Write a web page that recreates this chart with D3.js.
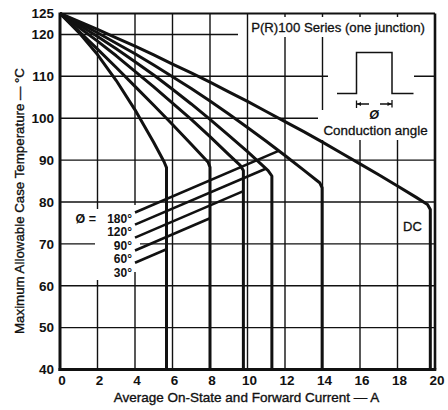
<!DOCTYPE html>
<html><head><meta charset="utf-8">
<script src="https://cdn.jsdelivr.net/npm/d3@7"></script>
<style>
body{margin:0;background:#fff}
text{font-family:"Liberation Sans",Arial,Helvetica,sans-serif;fill:#111}
</style>
</head><body>
<svg id="c" width="448" height="410"></svg>
<script>
// ---------- data ----------
const xTicks = [0,2,4,6,8,10,12,14,16,18,20];
const yTicks = [40,50,60,70,80,90,100,110,120,125];
const angleLabels = ["180°","120°","90°","60°","30°"];
// [average current A, max case temperature °C]
const curve30  = [[0,125],[1,120.5],[2,115.2],[3,109.0],[4,102.0],[5,94.2],[5.55,89.6],[5.68,88.2],[5.68,40]];
const curve60  = [[0,125],[1,120.8],[2,116.5],[3,112.1],[4,107.6],[5,103.1],[6,98.5],[7,93.8],[7.9,89.5],[8.0,88.3],[8.0,40]];
const curve90  = [[0,125],[1,121.7],[2,118.4],[3,114.9],[4,111.2],[5,107.5],[6,103.6],[7,99.7],[8,95.6],[9,91.3],[9.6,88.8],[9.78,87.5],[9.78,40]];
const curve120 = [[0,125],[1,122.3],[2,119.5],[3,116.6],[4,113.5],[5,110.3],[6,106.9],[7,103.4],[8,99.7],[9,95.9],[10,92.0],[11,87.9],[11.1,87.5],[11.3,86.2],[11.3,40]];
const curve180 = [[0,125],[1,122.8],[2,120.4],[3,117.9],[4,115.4],[5,112.7],[6,109.9],[7,107.1],[8,104.1],[9,101.0],[10,97.8],[11,94.5],[12,91.1],[13,87.6],[13.85,84.6],[13.98,83.4],[13.98,40]];
const curveDC  = [[0,125],[1,123.1],[2,121.2],[3,119.2],[4,117.2],[5,115.1],[6,112.9],[7,110.8],[8,108.6],[9,106.3],[10,104.0],[11,101.6],[12,99.2],[13,96.8],[14,94.3],[15,91.7],[16,89.1],[17,86.5],[18,83.8],[19,81.1],[19.6,79.4],[19.75,78.2],[19.75,40]];
// leader lines from the legend labels to their curves
const leaderStart = [[4.0,77.5],[4.0,74.6],[4.0,71.5],[4.0,68.4],[4.0,65.5]];
const leaderEnd   = [[11.66,92.2],[11.0,88.0],[9.78,82.6],[8.0,76.1],[5.68,68.7]];

// ---------- drawing ----------
const svg = d3.select("#c");
const x = d3.scaleLinear().domain([0,20]).range([60,435]);
const y = d3.scaleLinear().domain([40,125]).range([369.5,13.5]);
const ink = "#111";

// horizontal grid
const gH = svg.append("g");
gH.selectAll("line").data(yTicks.filter(v => v > 40 && v < 125)).join("line")
  .attr("x1", x(0)).attr("x2", x(20)).attr("y1", d => y(d)).attr("y2", d => y(d))
  .attr("stroke", ink).attr("stroke-width", 1.4);
// gaps in horizontal grid (label / inset areas)
const hGaps = [[238,434,31,39],[345,414,72,82],[320,434,114,124],[97,135,239,248]];
svg.append("g").selectAll("rect").data(hGaps).join("rect")
  .attr("x", d => d[0]).attr("width", d => d[1]-d[0]).attr("y", d => d[2]).attr("height", d => d[3]-d[2])
  .attr("fill", "#fff");

// vertical grid
const gV = svg.append("g");
gV.selectAll("line").data(xTicks.filter(v => v > 0 && v < 20)).join("line")
  .attr("y1", y(40)).attr("y2", y(125)).attr("x1", d => x(d)).attr("x2", d => x(d))
  .attr("stroke", ink).attr("stroke-width", 1.4);
const vGaps = [[95,104,209,280],[131,140,205,272],[250,434,17,37],[318,434,110,140],[328,414,37,140]];
svg.append("g").selectAll("rect").data(vGaps).join("rect")
  .attr("x", d => d[0]).attr("width", d => d[1]-d[0]).attr("y", d => d[2]).attr("height", d => d[3]-d[2])
  .attr("fill", "#fff");

// frame
svg.append("line").attr("x1", x(0)).attr("x2", x(20)).attr("y1", y(125)).attr("y2", y(125)).attr("stroke", ink).attr("stroke-width", 2.2);
svg.append("line").attr("x1", x(20)).attr("x2", x(20)).attr("y1", y(125)).attr("y2", y(40)).attr("stroke", ink).attr("stroke-width", 2.6);
svg.append("line").attr("x1", x(0)).attr("x2", x(0)).attr("y1", y(125)-1).attr("y2", y(40)+1.5).attr("stroke", ink).attr("stroke-width", 3);
svg.append("line").attr("x1", x(0)-1.5).attr("x2", x(20)+1.3).attr("y1", y(40)).attr("y2", y(40)).attr("stroke", ink).attr("stroke-width", 3);

// curves
const line = d3.line().x(d => x(d[0])).y(d => y(d[1]));
const curves = [curve30, curve60, curve90, curve120, curve180, curveDC];
svg.append("g").selectAll("path").data(curves).join("path")
  .attr("d", line).attr("fill", "none").attr("stroke", ink)
  .attr("stroke-width", 3).attr("stroke-linejoin", "round");

// leader lines
svg.append("g").selectAll("line").data(leaderStart).join("line")
  .attr("x1", d => x(d[0])).attr("y1", d => y(d[1]))
  .attr("x2", (d,i) => x(leaderEnd[i][0])).attr("y2", (d,i) => y(leaderEnd[i][1]))
  .attr("stroke", ink).attr("stroke-width", 2.6);

// legend labels
const gL = svg.append("g").attr("font-size", 12).attr("font-weight", "bold");
gL.selectAll("text.ang").data(angleLabels).join("text").attr("class", "ang")
  .attr("text-anchor", "end")
  .attr("x", x(4) - 3).attr("y", (d,i) => 222.8 + 13.5 * i)
  .attr("font-size", 13).attr("transform", (d,i) => `translate(0,0)`)
  .style("font-size", "12px")
  .text(d => d);
gL.append("text").attr("x", 96).attr("y", 222.8)
  .attr("text-anchor", "end").style("font-size", "12.5px").text("Ø =");

// axes tick labels
const ax = svg.append("g").attr("transform", `translate(${x(0)},0)`)
  .call(d3.axisLeft(y).tickValues(yTicks).tickSize(0).tickPadding(6).tickFormat(d3.format("d")));
ax.select(".domain").remove();
ax.selectAll("text").attr("font-size", 13.5).attr("font-weight", "bold").attr("fill", ink)
  .style("font-family", '"Liberation Sans",Arial,sans-serif');
const bx = svg.append("g").attr("transform", `translate(1.5,${y(40)})`)
  .call(d3.axisBottom(x).tickValues(xTicks).tickSize(0).tickPadding(6).tickFormat(d3.format("d")));
bx.select(".domain").remove();
bx.selectAll("text").attr("font-size", 13.5).attr("font-weight", "bold").attr("fill", ink)
  .style("font-family", '"Liberation Sans",Arial,sans-serif');

// axis titles
svg.append("text").attr("x", 246.5).attr("y", 401.5).attr("text-anchor", "middle")
  .attr("font-size", 13.5).attr("stroke", ink).attr("stroke-width", 0.35)
  .text("Average On-State and Forward Current — A");
svg.append("text").attr("transform", "translate(24,201) rotate(-90)").attr("text-anchor", "middle")
  .attr("font-size", 13.3).attr("stroke", ink).attr("stroke-width", 0.35)
  .text("Maximum Allowable Case Temperature — °C");

// inset annotation
svg.append("text").attr("x", 338).attr("y", 31.5).attr("text-anchor", "middle")
  .attr("font-size", 13.2).attr("stroke", ink).attr("stroke-width", 0.3)
  .text("P(R)100 Series (one junction)");
svg.append("path").attr("d", "M337,93.5H356.5V52.5H392V93.5H413.5")
  .attr("fill", "none").attr("stroke", ink).attr("stroke-width", 1.5);
svg.append("path").attr("d", "M356.5,100.5V108M392,100V107.5M356.5,104H369M380,104H392")
  .attr("fill", "none").attr("stroke", ink).attr("stroke-width", 1.3);
svg.append("path").attr("d", "M357,104l4,-2v4zM391.5,104l-4,-2v4z").attr("fill", ink);
svg.append("text").attr("x", 374).attr("y", 119).attr("text-anchor", "middle")
  .attr("font-size", 12.5).attr("font-weight", "bold").attr("font-style", "italic").text("Ø");
svg.append("text").attr("x", 375.5).attr("y", 134.5).attr("text-anchor", "middle")
  .attr("font-size", 13.4).attr("stroke", ink).attr("stroke-width", 0.3)
  .text("Conduction angle");
svg.append("text").attr("x", 403).attr("y", 231).attr("font-size", 13).attr("stroke", ink).attr("stroke-width", 0.3)
  .text("DC");
</script>
</body></html>
